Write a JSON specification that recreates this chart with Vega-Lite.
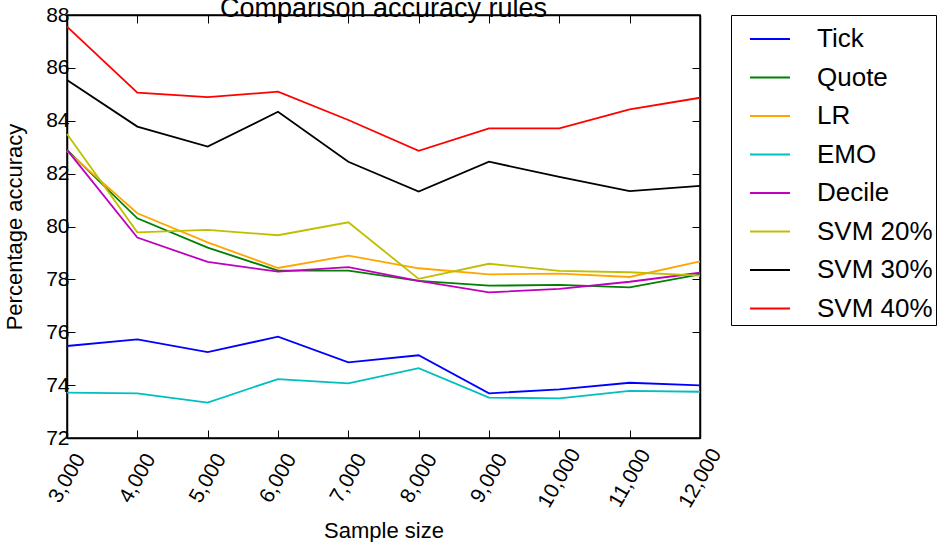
{
  "$schema": "https://vega.github.io/schema/vega-lite/v6.json",
  "autosize": "none",
  "width": 633,
  "height": 423,
  "padding": {"left": 67, "top": 15, "right": 246, "bottom": 104},
  "background": "white",
  "config": {
    "font": "Liberation Sans",
    "view": {"stroke": "black", "strokeWidth": 1.5},
    "legend": {"strokeColor": "black", "fillColor": "white", "cornerRadius": 0},
    "axis": {"grid": false, "domain": true, "domainColor": "black", "domainWidth": 1.5, "tickColor": "black", "tickSize": -8, "tickWidth": 1, "labelColor": "black", "titleColor": "black", "labelFont": "Liberation Sans", "titleFont": "Liberation Sans", "labelFontSize": 21, "titleFontSize": 22, "titleFontWeight": "normal"}
  },
  "title": {"text": "Comparison accuracy rules", "fontSize": 27, "fontWeight": "normal", "font": "Liberation Sans", "color": "black", "baseline": "alphabetic", "frame": "group", "offset": -40, "anchor": "middle"},
  "data": {"values": [
    {"size": 3000, "series": "Tick", "acc": 75.48}, {"size": 4000, "series": "Tick", "acc": 75.73}, {"size": 5000, "series": "Tick", "acc": 75.25}, {"size": 6000, "series": "Tick", "acc": 75.83}, {"size": 7000, "series": "Tick", "acc": 74.86}, {"size": 8000, "series": "Tick", "acc": 75.13}, {"size": 9000, "series": "Tick", "acc": 73.69}, {"size": 10000, "series": "Tick", "acc": 73.84}, {"size": 11000, "series": "Tick", "acc": 74.09}, {"size": 12000, "series": "Tick", "acc": 73.99},
    {"size": 3000, "series": "Quote", "acc": 82.9}, {"size": 4000, "series": "Quote", "acc": 80.31}, {"size": 5000, "series": "Quote", "acc": 79.2}, {"size": 6000, "series": "Quote", "acc": 78.33}, {"size": 7000, "series": "Quote", "acc": 78.33}, {"size": 8000, "series": "Quote", "acc": 77.94}, {"size": 9000, "series": "Quote", "acc": 77.76}, {"size": 10000, "series": "Quote", "acc": 77.79}, {"size": 11000, "series": "Quote", "acc": 77.7}, {"size": 12000, "series": "Quote", "acc": 78.19},
    {"size": 3000, "series": "LR", "acc": 82.85}, {"size": 4000, "series": "LR", "acc": 80.5}, {"size": 5000, "series": "LR", "acc": 79.4}, {"size": 6000, "series": "LR", "acc": 78.43}, {"size": 7000, "series": "LR", "acc": 78.9}, {"size": 8000, "series": "LR", "acc": 78.42}, {"size": 9000, "series": "LR", "acc": 78.19}, {"size": 10000, "series": "LR", "acc": 78.22}, {"size": 11000, "series": "LR", "acc": 78.09}, {"size": 12000, "series": "LR", "acc": 78.68},
    {"size": 3000, "series": "EMO", "acc": 73.72}, {"size": 4000, "series": "EMO", "acc": 73.69}, {"size": 5000, "series": "EMO", "acc": 73.34}, {"size": 6000, "series": "EMO", "acc": 74.23}, {"size": 7000, "series": "EMO", "acc": 74.07}, {"size": 8000, "series": "EMO", "acc": 74.64}, {"size": 9000, "series": "EMO", "acc": 73.53}, {"size": 10000, "series": "EMO", "acc": 73.5}, {"size": 11000, "series": "EMO", "acc": 73.78}, {"size": 12000, "series": "EMO", "acc": 73.75},
    {"size": 3000, "series": "Decile", "acc": 82.9}, {"size": 4000, "series": "Decile", "acc": 79.58}, {"size": 5000, "series": "Decile", "acc": 78.66}, {"size": 6000, "series": "Decile", "acc": 78.29}, {"size": 7000, "series": "Decile", "acc": 78.46}, {"size": 8000, "series": "Decile", "acc": 77.94}, {"size": 9000, "series": "Decile", "acc": 77.51}, {"size": 10000, "series": "Decile", "acc": 77.64}, {"size": 11000, "series": "Decile", "acc": 77.91}, {"size": 12000, "series": "Decile", "acc": 78.25},
    {"size": 3000, "series": "SVM 20%", "acc": 83.5}, {"size": 4000, "series": "SVM 20%", "acc": 79.78}, {"size": 5000, "series": "SVM 20%", "acc": 79.87}, {"size": 6000, "series": "SVM 20%", "acc": 79.67}, {"size": 7000, "series": "SVM 20%", "acc": 80.16}, {"size": 8000, "series": "SVM 20%", "acc": 78.02}, {"size": 9000, "series": "SVM 20%", "acc": 78.59}, {"size": 10000, "series": "SVM 20%", "acc": 78.32}, {"size": 11000, "series": "SVM 20%", "acc": 78.27}, {"size": 12000, "series": "SVM 20%", "acc": 78.14},
    {"size": 3000, "series": "SVM 30%", "acc": 85.54}, {"size": 4000, "series": "SVM 30%", "acc": 83.78}, {"size": 5000, "series": "SVM 30%", "acc": 83.02}, {"size": 6000, "series": "SVM 30%", "acc": 84.34}, {"size": 7000, "series": "SVM 30%", "acc": 82.45}, {"size": 8000, "series": "SVM 30%", "acc": 81.32}, {"size": 9000, "series": "SVM 30%", "acc": 82.45}, {"size": 10000, "series": "SVM 30%", "acc": 81.88}, {"size": 11000, "series": "SVM 30%", "acc": 81.34}, {"size": 12000, "series": "SVM 30%", "acc": 81.54},
    {"size": 3000, "series": "SVM 40%", "acc": 87.56}, {"size": 4000, "series": "SVM 40%", "acc": 85.06}, {"size": 5000, "series": "SVM 40%", "acc": 84.89}, {"size": 6000, "series": "SVM 40%", "acc": 85.1}, {"size": 7000, "series": "SVM 40%", "acc": 84.03}, {"size": 8000, "series": "SVM 40%", "acc": 82.86}, {"size": 9000, "series": "SVM 40%", "acc": 83.71}, {"size": 10000, "series": "SVM 40%", "acc": 83.71}, {"size": 11000, "series": "SVM 40%", "acc": 84.43}, {"size": 12000, "series": "SVM 40%", "acc": 84.87}
  ]},
  "encoding": {
    "x": {"field": "size", "type": "quantitative", "scale": {"domain": [3000, 12000], "nice": false, "zero": false}},
    "y": {"field": "acc", "type": "quantitative", "scale": {"domain": [72, 88], "nice": false, "zero": false}},
    "color": {"field": "series", "type": "nominal",
      "scale": {"domain": ["Tick", "Quote", "LR", "EMO", "Decile", "SVM 20%", "SVM 30%", "SVM 40%"],
                "range": ["#0000ff", "#008000", "#ffa500", "#00bfbf", "#bf00bf", "#bfbf00", "#000000", "#ff0000"]},
      "legend": {"title": null, "orient": "none", "legendX": 664, "legendY": 0, "symbolType": "stroke", "symbolSize": 1600, "symbolStrokeWidth": 1.8, "symbolOffset": 15, "labelOffset": 26, "labelFontSize": 26, "labelFont": "Liberation Sans", "labelColor": "black", "labelLimit": 300, "rowPadding": 4.5, "padding": 3}
    }
  },
  "layer": [
    {
      "mark": {"type": "line", "strokeWidth": 1.8},
      "encoding": {
        "x": {"field": "size", "type": "quantitative", "title": "Sample size", "axis": {"orient": "bottom", "values": [3000, 4000, 5000, 6000, 7000, 8000, 9000, 10000, 11000, 12000], "format": ",d", "labelAngle": -60, "labelAlign": "center", "labelBaseline": "middle", "labelPadding": 48, "titlePadding": 10}},
        "y": {"field": "acc", "type": "quantitative", "title": "Percentage accuracy", "axis": {"orient": "left", "values": [72, 74, 76, 78, 80, 82, 84, 86, 88], "labelPadding": 6, "titlePadding": 19}}
      }
    },
    {
      "mark": {"type": "line", "strokeWidth": 1.8, "strokeOpacity": 0},
      "encoding": {
        "x": {"field": "size", "type": "quantitative", "axis": {"orient": "top", "values": [3000, 4000, 5000, 6000, 7000, 8000, 9000, 10000, 11000, 12000], "labels": false, "title": null}},
        "y": {"field": "acc", "type": "quantitative", "axis": {"orient": "right", "values": [72, 74, 76, 78, 80, 82, 84, 86, 88], "labels": false, "title": null}}
      }
    }
  ],
  "resolve": {"axis": {"x": "independent", "y": "independent"}}
}
